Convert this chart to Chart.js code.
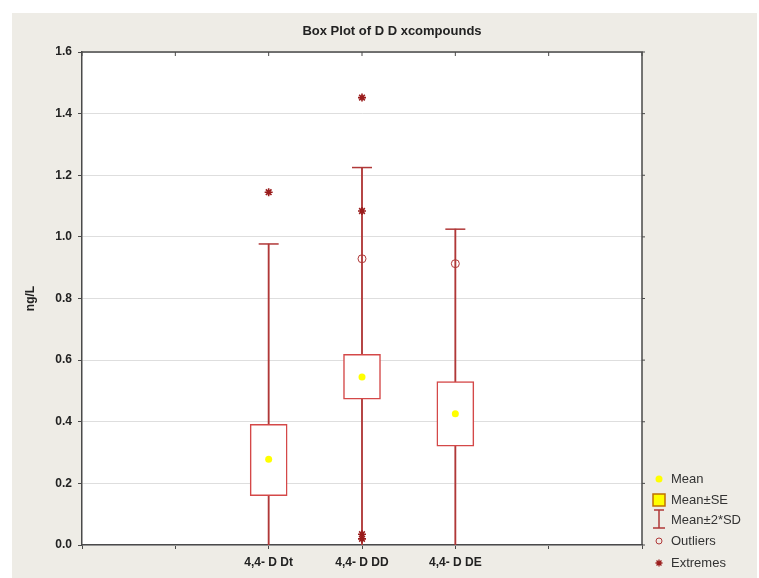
<!DOCTYPE html>
<html>
<head>
<meta charset="utf-8">
<script src="https://cdn.jsdelivr.net/npm/chart.js@4.4.0/dist/chart.umd.min.js"></script>
<style>
html, body { margin: 0; padding: 0; background: #fff; }
#wrap { width: 759px; height: 578px; }
</style>
</head>
<body>
<div id="wrap"><canvas id="chart" width="759" height="578"></canvas></div>
<script>
// values (ng/L)
const categories = ['4,4- D Dt', '4,4- D DD', '4,4- D DE']
const means = [0.278, 0.545, 0.426]
const seLow = [0.160, 0.473, 0.321]
const seHigh = [0.392, 0.619, 0.530]
const sdLow = [-0.420, -0.135, -0.174]
const sdHigh = [0.977, 1.225, 1.025]
const outliers = [[], [0.929], [0.913]]
const extremes = [[1.145], [1.452, 1.084, 0.035, 0.020], []]
const axisLabels = ['', '', ...categories, '', '']
const legendItems = ['Mean', 'Mean\u00B1SE', 'Mean\u00B12*SD', 'Outliers', 'Extremes']

const FIRST = 2 // first category slot on the x axis
const boxRed = '#d44848'
const whiskRed = '#b03838'
const darkRed = '#9a1c1c'
const frame = '#4a4a4a'

const boxData = categories.map((c, i) => ({ x: FIRST + i, y: [seLow[i], seHigh[i]] }))
const whiskData = categories.map((c, i) => ({ x: FIRST + i, y: [sdLow[i], sdHigh[i]] }))
const capData = categories.flatMap((c, i) => [{ x: FIRST + i, y: sdHigh[i] }, { x: FIRST + i, y: sdLow[i] }])
const meanData = categories.map((c, i) => ({ x: FIRST + i, y: means[i] }))
const outData = outliers.flatMap((list, i) => list.map(v => ({ x: FIRST + i, y: v })))
const extData = extremes.flatMap((list, i) => list.map(v => ({ x: FIRST + i, y: v })))

const decor = {
    id: 'decor',
    beforeDraw(chart) {
        const ctx = chart.ctx
        const a = chart.chartArea
        ctx.save()
        ctx.fillStyle = '#fff'
        ctx.fillRect(0, 0, chart.width, chart.height)
        ctx.fillStyle = '#eeece6'
        ctx.fillRect(12, 13, chart.width - 14, chart.height - 13)
        ctx.fillStyle = '#fff'
        ctx.fillRect(a.left, a.top, a.right - a.left, a.bottom - a.top)
        ctx.restore()
    },
    afterDraw(chart) {
        const ctx = chart.ctx
        const a = chart.chartArea
        const xs = chart.scales.x
        const ys = chart.scales.y
        ctx.save()
        // frame top / right
        ctx.strokeStyle = frame
        ctx.lineWidth = 1.5
        ctx.beginPath()
        ctx.moveTo(a.left, a.top); ctx.lineTo(a.right, a.top); ctx.lineTo(a.right, a.bottom)
        ctx.stroke()
        ctx.lineWidth = 1
        ctx.beginPath()
        xs.ticks.forEach(t => {
            const px = xs.getPixelForValue(t.value)
            ctx.moveTo(px, a.top); ctx.lineTo(px, a.top + 4)
        })
        ys.ticks.forEach(t => {
            const py = ys.getPixelForValue(t.value)
            ctx.moveTo(a.right, py); ctx.lineTo(a.right + 3, py)
        })
        ctx.stroke()

        // title
        ctx.fillStyle = '#222'
        ctx.font = 'bold 13px "Liberation Sans Narrow", "Arial Narrow", Arial, sans-serif'
        ctx.textAlign = 'center'
        ctx.textBaseline = 'middle'
        ctx.fillText('Box Plot of D D xcompounds', 392, 31)

        // legend
        const lx = 659
        const tx = 671
        const rows = [479, 500, 520, 541, 563]
        ctx.textAlign = 'left'
        ctx.font = '13px "Liberation Sans", Arial, sans-serif'
        ctx.fillStyle = '#333'
        legendItems.forEach((label, k) => ctx.fillText(label, tx, rows[k]))

        ctx.fillStyle = '#ffff00'
        ctx.beginPath(); ctx.arc(lx, rows[0], 3.5, 0, Math.PI * 2); ctx.fill()

        ctx.fillStyle = '#ffff00'
        ctx.fillRect(lx - 6, rows[1] - 6, 12, 12)
        ctx.strokeStyle = '#c07000'
        ctx.lineWidth = 1.5
        ctx.strokeRect(lx - 6, rows[1] - 6, 12, 12)

        ctx.strokeStyle = whiskRed
        ctx.beginPath()
        ctx.moveTo(lx - 5, rows[2] - 10); ctx.lineTo(lx + 5, rows[2] - 10)
        ctx.moveTo(lx, rows[2] - 10); ctx.lineTo(lx, rows[2] + 8)
        ctx.moveTo(lx - 6, rows[2] + 8); ctx.lineTo(lx + 6, rows[2] + 8)
        ctx.stroke()

        ctx.strokeStyle = whiskRed
        ctx.lineWidth = 1
        ctx.beginPath(); ctx.arc(lx, rows[3], 3, 0, Math.PI * 2); ctx.stroke()

        ctx.strokeStyle = darkRed
        ctx.lineWidth = 1.3
        ctx.beginPath()
        for (let k = 0; k < 4; k++) {
            const ang = k * Math.PI / 4
            ctx.moveTo(lx - Math.cos(ang) * 3.5, rows[4] - Math.sin(ang) * 3.5)
            ctx.lineTo(lx + Math.cos(ang) * 3.5, rows[4] + Math.sin(ang) * 3.5)
        }
        ctx.stroke()
        ctx.restore()
    }
}

const tickFont = { family: '"Liberation Sans", Arial, sans-serif', size: 12, weight: 'bold' }

new Chart(document.getElementById('chart').getContext('2d'), {
    type: 'bar',
    data: {
        datasets: [
            {
                type: 'scatter',
                label: 'Extremes',
                data: extData,
                pointStyle: 'star',
                pointRadius: 4,
                borderColor: darkRed,
                backgroundColor: darkRed,
                borderWidth: 1.6,
                order: 0
            },
            {
                type: 'scatter',
                label: 'Outliers',
                data: outData,
                pointStyle: 'circle',
                pointRadius: 4,
                borderColor: whiskRed,
                backgroundColor: 'rgba(0,0,0,0)',
                borderWidth: 1,
                order: 1
            },
            {
                type: 'scatter',
                label: 'Mean',
                data: meanData,
                pointRadius: 3.5,
                backgroundColor: '#ffff00',
                borderWidth: 0,
                order: 2
            },
            {
                label: 'Mean\u00B1SE',
                data: boxData,
                backgroundColor: '#fff',
                borderColor: boxRed,
                borderWidth: 1.5,
                borderSkipped: false,
                barThickness: 37,
                grouped: false,
                clip: 0,
                order: 3
            },
            {
                type: 'scatter',
                label: 'caps',
                data: capData,
                pointStyle: 'line',
                pointRadius: 10,
                borderColor: whiskRed,
                borderWidth: 1.5,
                clip: 0,
                order: 4
            },
            {
                label: 'Mean\u00B12*SD',
                data: whiskData,
                backgroundColor: whiskRed,
                borderWidth: 0,
                barThickness: 1.2,
                grouped: false,
                clip: 0,
                order: 5
            }
        ]
    },
    options: {
        responsive: false,
        animation: false,
        events: [],
        layout: { padding: { left: 0, right: 117, top: 52, bottom: 0 } },
        scales: {
            x: {
                type: 'linear',
                min: 0,
                max: 6,
                offset: false,
                afterFit: s => { s.height = 33 },
                ticks: {
                    stepSize: 1,
                    autoSkip: false,
                    maxRotation: 0,
                    padding: 6,
                    color: '#222',
                    font: tickFont,
                    callback: v => axisLabels[v] ?? ''
                },
                grid: { drawOnChartArea: false, offset: false, tickLength: 4, color: frame },
                border: { color: frame, width: 1.5 }
            },
            y: {
                min: 0,
                max: 1.6,
                afterFit: s => { s.width = 82 },
                ticks: {
                    stepSize: 0.2,
                    padding: 6,
                    color: '#222',
                    font: tickFont,
                    callback: v => v.toFixed(1)
                },
                title: { display: true, text: 'ng/L', color: '#222', font: tickFont, padding: { top: 23, bottom: 0 } },
                grid: { color: '#dedede', tickLength: 4, tickColor: frame },
                border: { color: frame, width: 1.5 }
            }
        },
        plugins: {
            legend: { display: false },
            tooltip: { enabled: false }
        }
    },
    plugins: [decor]
})
</script>
</body>
</html>
